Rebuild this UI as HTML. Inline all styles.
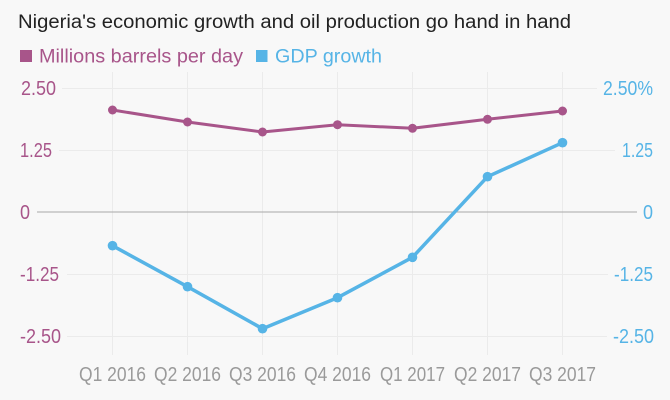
<!DOCTYPE html>
<html>
<head>
<meta charset="utf-8">
<style>
  html, body { margin:0; padding:0; background:#f8f8f8; }
  svg { display:block; }
  text { font-family: "Liberation Sans", "DejaVu Sans", sans-serif; }
</style>
</head>
<body>
<svg width="670" height="400" viewBox="0 0 670 400" xmlns="http://www.w3.org/2000/svg">
  <rect width="670" height="400" fill="#f8f8f8"/>
  <!-- Title -->
  <text x="18" y="28" font-size="19" fill="#222" textLength="553" lengthAdjust="spacingAndGlyphs">Nigeria's economic growth and oil production go hand in hand</text>
  <!-- Legend -->
  <rect x="20" y="50" width="12" height="12" fill="#a8558a"/>
  <text x="39" y="62.5" font-size="19" fill="#a8558a" textLength="204" lengthAdjust="spacingAndGlyphs">Millions barrels per day</text>
  <rect x="256" y="50" width="11.5" height="12" fill="#56b4e6"/>
  <text x="275" y="62.5" font-size="19" fill="#56b4e6" textLength="107" lengthAdjust="spacingAndGlyphs">GDP growth</text>

  <!-- vertical grid -->
  <g stroke="#ebebeb" stroke-width="1">
    <line x1="112.5" y1="72" x2="112.5" y2="355"/>
    <line x1="187.5" y1="72" x2="187.5" y2="355"/>
    <line x1="262.5" y1="72" x2="262.5" y2="355"/>
    <line x1="337.5" y1="72" x2="337.5" y2="355"/>
    <line x1="412.5" y1="72" x2="412.5" y2="355"/>
    <line x1="487.5" y1="72" x2="487.5" y2="355"/>
    <line x1="562.5" y1="72" x2="562.5" y2="355"/>
  </g>
  <!-- horizontal grid -->
  <g stroke="#ebebeb" stroke-width="1">
    <line x1="62" y1="88.5" x2="597" y2="88.5"/>
    <line x1="59" y1="150.5" x2="615" y2="150.5"/>
    <line x1="67" y1="274.5" x2="608" y2="274.5"/>
    <line x1="67" y1="336.5" x2="607" y2="336.5"/>
  </g>
  <line x1="37" y1="212" x2="637" y2="212" stroke="#a8a8a8" stroke-width="1"/>

  <!-- left axis labels -->
  <g font-size="20" fill="#a8558a">
    <text x="21" y="95" textLength="35" lengthAdjust="spacingAndGlyphs">2.50</text>
    <text x="20" y="157" textLength="32" lengthAdjust="spacingAndGlyphs">1.25</text>
    <text x="20" y="219" textLength="10" lengthAdjust="spacingAndGlyphs">0</text>
    <text x="20" y="281" textLength="39" lengthAdjust="spacingAndGlyphs">-1.25</text>
    <text x="20" y="343" textLength="41" lengthAdjust="spacingAndGlyphs">-2.50</text>
  </g>
  <!-- right axis labels -->
  <g font-size="20" fill="#56b4e6">
    <text x="603" y="95" textLength="50" lengthAdjust="spacingAndGlyphs">2.50%</text>
    <text x="622" y="157" textLength="31" lengthAdjust="spacingAndGlyphs">1.25</text>
    <text x="643" y="219" textLength="10" lengthAdjust="spacingAndGlyphs">0</text>
    <text x="614" y="281" textLength="39" lengthAdjust="spacingAndGlyphs">-1.25</text>
    <text x="613" y="343" textLength="41" lengthAdjust="spacingAndGlyphs">-2.50</text>
  </g>
  <!-- x axis labels -->
  <g font-size="20" fill="#9a9a9a" text-anchor="middle">
    <text x="112.5" y="381" textLength="67" lengthAdjust="spacingAndGlyphs">Q1 2016</text>
    <text x="187.5" y="381" textLength="67" lengthAdjust="spacingAndGlyphs">Q2 2016</text>
    <text x="262.5" y="381" textLength="67" lengthAdjust="spacingAndGlyphs">Q3 2016</text>
    <text x="337.5" y="381" textLength="67" lengthAdjust="spacingAndGlyphs">Q4 2016</text>
    <text x="412.5" y="381" textLength="65" lengthAdjust="spacingAndGlyphs">Q1 2017</text>
    <text x="487.5" y="381" textLength="67" lengthAdjust="spacingAndGlyphs">Q2 2017</text>
    <text x="562.5" y="381" textLength="67" lengthAdjust="spacingAndGlyphs">Q3 2017</text>
  </g>

  <!-- oil series -->
  <polyline fill="none" stroke="#a8558a" stroke-width="3" stroke-linejoin="round"
    points="112.5,110 187.5,122 262.5,132 337.5,124.7 412.5,128.3 487.5,119.3 562.5,111"/>
  <g fill="#a8558a">
    <circle cx="112.5" cy="110" r="4.5"/>
    <circle cx="187.5" cy="122" r="4.5"/>
    <circle cx="262.5" cy="132" r="4.5"/>
    <circle cx="337.5" cy="124.7" r="4.5"/>
    <circle cx="412.5" cy="128.3" r="4.5"/>
    <circle cx="487.5" cy="119.3" r="4.5"/>
    <circle cx="562.5" cy="111" r="4.5"/>
  </g>
  <!-- GDP series -->
  <polyline fill="none" stroke="#56b4e6" stroke-width="3.5" stroke-linejoin="round"
    points="112.5,245.7 187.5,286.7 262.5,328.7 337.5,297.7 412.5,257.3 487.5,176.7 562.5,142.7"/>
  <g fill="#56b4e6">
    <circle cx="112.5" cy="245.7" r="4.8"/>
    <circle cx="187.5" cy="286.7" r="4.8"/>
    <circle cx="262.5" cy="328.7" r="4.8"/>
    <circle cx="337.5" cy="297.7" r="4.8"/>
    <circle cx="412.5" cy="257.3" r="4.8"/>
    <circle cx="487.5" cy="176.7" r="4.8"/>
    <circle cx="562.5" cy="142.7" r="4.8"/>
  </g>
</svg>
</body>
</html>
